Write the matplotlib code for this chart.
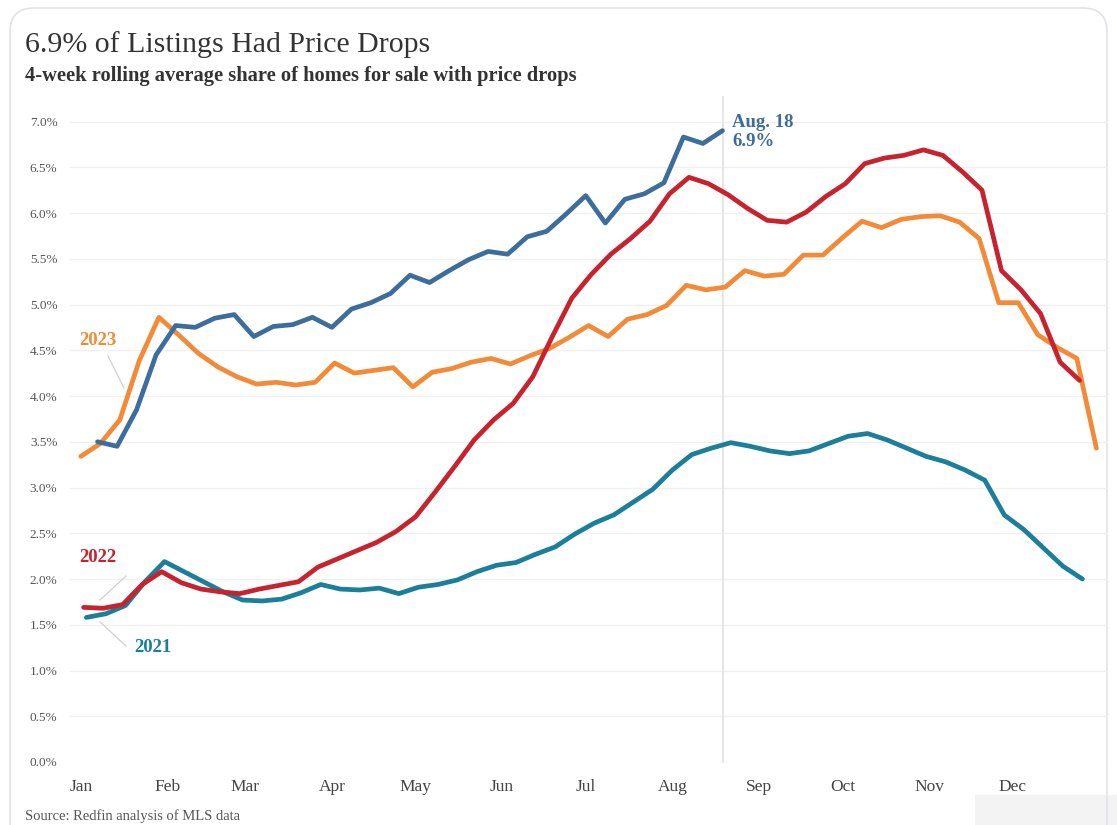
import matplotlib
matplotlib.use("Agg")
import matplotlib.pyplot as plt
import matplotlib.patches as mpatches
from matplotlib.transforms import IdentityTransform
import numpy as np
import pandas as pd

# ---------------- data (weekly, 4-week rolling average, %) ----------------
start_2021 = "2021-01-03"
vals_2021 = [1.58, 1.62, 1.71, 1.97, 2.19, 2.08, 1.97, 1.86, 1.77, 1.76,
             1.78, 1.85, 1.94, 1.89, 1.88, 1.90, 1.84, 1.91, 1.94, 1.99,
             2.08, 2.15, 2.18, 2.27, 2.35, 2.49, 2.61, 2.70, 2.84, 2.98,
             3.19, 3.36, 3.43, 3.49, 3.45, 3.40, 3.37, 3.40, 3.48, 3.56,
             3.59, 3.52, 3.43, 3.34, 3.28, 3.19, 3.08, 2.70, 2.54, 2.34,
             2.14, 2.00]

start_2022 = "2022-01-02"
vals_2022 = [1.69, 1.68, 1.72, 1.94, 2.08, 1.96, 1.89, 1.86, 1.84, 1.89,
             1.93, 1.97, 2.13, 2.22, 2.31, 2.40, 2.52, 2.68, 2.95, 3.23,
             3.52, 3.74, 3.92, 4.21, 4.65, 5.07, 5.33, 5.55, 5.72, 5.91,
             6.21, 6.39, 6.32, 6.20, 6.05, 5.92, 5.90, 6.01, 6.18, 6.32,
             6.54, 6.60, 6.63, 6.69, 6.63, 6.45, 6.25, 5.37, 5.16, 4.90,
             4.37, 4.17]

start_2023 = "2023-01-01"
vals_2023 = [3.34, 3.48, 3.74, 4.39, 4.86, 4.67, 4.47, 4.32, 4.21, 4.13,
             4.15, 4.12, 4.15, 4.36, 4.25, 4.28, 4.31, 4.10, 4.26, 4.30,
             4.37, 4.41, 4.35, 4.44, 4.52, 4.64, 4.77, 4.65, 4.84, 4.89,
             4.99, 5.21, 5.16, 5.19, 5.37, 5.31, 5.33, 5.54, 5.54, 5.73,
             5.91, 5.84, 5.93, 5.96, 5.97, 5.90, 5.72, 5.02, 5.02, 4.67,
             4.53, 4.41, 3.43]

start_2024 = "2024-01-07"
vals_2024 = [3.50, 3.45, 3.85, 4.45, 4.77, 4.75, 4.85, 4.89, 4.65, 4.76,
             4.78, 4.86, 4.75, 4.95, 5.02, 5.12, 5.32, 5.24, 5.37, 5.49,
             5.58, 5.55, 5.74, 5.80, 5.99, 6.19, 5.89, 6.15, 6.21, 6.33,
             6.83, 6.76, 6.90]

month_labels = ["Jan", "Feb", "Mar", "Apr", "May", "Jun",
                "Jul", "Aug", "Sep", "Oct", "Nov", "Dec"]
ytick_vals = [0.0, 0.5, 1.0, 1.5, 2.0, 2.5, 3.0, 3.5, 4.0, 4.5, 5.0, 5.5, 6.0, 6.5, 7.0]

marker_date = "2024-08-18"
marker_value = 6.9

# ---------------- helpers ----------------
def day_of_year(start, n):
    d = pd.date_range(start, periods=n, freq="7D")
    return np.asarray((d - pd.Timestamp(year=d[0].year, month=1, day=1)).days, dtype=float)

c2021 = "#1b7f99"
c2022 = "#c7222e"
c2023 = "#f38a37"
c2024 = "#3d6d9b"
serif = ["Liberation Serif", "DejaVu Serif"]

W, H = 1117, 825
fig = plt.figure(figsize=(W / 100, H / 100), dpi=100)
fig.patch.set_facecolor("white")

# card border
card = mpatches.FancyBboxPatch((10, -60), W - 20, H - 8 + 60,
                               boxstyle="round,pad=0,rounding_size=24",
                               transform=IdentityTransform(),
                               facecolor="none", edgecolor="#dfe3e8", lw=1.2, zorder=-5)
fig.patches.append(card)
fig.patches.append(mpatches.Rectangle((975, 0), W - 975, 30, transform=IdentityTransform(),
                                      facecolor="#f3f3f3", edgecolor="none", zorder=-6))

# axes geometry (pixels)
px_left, px_right, px_bottom, px_top = 70, 1108, 762, 112
x0_px, px_per_day = 80.8, 2.79
px_per_unit = 91.5

ax = fig.add_axes([px_left / W, (H - px_bottom) / H,
                   (px_right - px_left) / W, (px_bottom - px_top) / H])
ax.set_facecolor("none")
ax.set_xlim((px_left - x0_px) / px_per_day, (px_right - x0_px) / px_per_day)
ax.set_ylim(0, (px_bottom - px_top) / px_per_unit)

for s in ax.spines.values():
    s.set_visible(False)

ax.set_yticks(ytick_vals)
ax.set_yticklabels([f"{v:.1f}%" for v in ytick_vals], fontfamily=serif,
                   fontsize=9.5, color="#555555")
month_pos = day_of_year("2023-01-01", 1)[0] + np.cumsum([0, 31, 28, 31, 30, 31, 30, 31, 31, 30, 31, 30])
ax.set_xticks(month_pos)
ax.set_xticklabels(month_labels, fontfamily=serif, fontsize=12.5, color="#444444")
ax.tick_params(axis="both", length=0)
ax.tick_params(axis="y", pad=9)
ax.tick_params(axis="x", pad=12)
ax.grid(axis="y", color="#f0f0f0", lw=1)
ax.set_axisbelow(True)

# vertical marker line
md = pd.Timestamp(marker_date)
mx = (md - pd.Timestamp(year=md.year, month=1, day=1)).days
ax.plot([mx, mx], [0, (px_bottom - 97) / px_per_unit], color="#e2e2e2", lw=1.2,
        clip_on=False, zorder=1)

lw = 3.4
ax.plot(day_of_year(start_2021, len(vals_2021)), vals_2021, color=c2021, lw=lw,
        solid_joinstyle="round", solid_capstyle="round", zorder=3)
ax.plot(day_of_year(start_2023, len(vals_2023)), vals_2023, color=c2023, lw=lw,
        solid_joinstyle="round", solid_capstyle="round", zorder=4)
ax.plot(day_of_year(start_2022, len(vals_2022)), vals_2022, color=c2022, lw=lw,
        solid_joinstyle="round", solid_capstyle="round", zorder=5)
ax.plot(day_of_year(start_2024, len(vals_2024)), vals_2024, color=c2024, lw=lw,
        solid_joinstyle="round", solid_capstyle="round", zorder=6)

# labels & leader lines
def d(px, py):
    return ((px - x0_px) / px_per_day, (px_bottom - py) / px_per_unit)

lead = dict(color="#cfcfcf", lw=0.9, zorder=2, clip_on=False)
for (a, b) in [((108, 356), (124, 388)), ((126, 576), (100, 600)), ((100, 622), (126, 646))]:
    p, q = d(*a), d(*b)
    ax.plot([p[0], q[0]], [p[1], q[1]], **lead)

ax.text(*d(98, 340), "2023", color=c2023, fontfamily=serif, fontsize=13.5,
        fontweight="bold", ha="center", va="center")
ax.text(*d(98, 557), "2022", color=c2022, fontfamily=serif, fontsize=13.5,
        fontweight="bold", ha="center", va="center")
ax.text(*d(153, 648), "2021", color=c2021, fontfamily=serif, fontsize=13.5,
        fontweight="bold", ha="center", va="center")
ax.text(*d(732, 132), "Aug. 18\n6.9%", color=c2024, fontfamily=serif, fontsize=13.5,
        fontweight="bold", ha="left", va="center", linespacing=1.1)

# titles
fig.text(25 / W, (H - 45) / H, "6.9% of Listings Had Price Drops", fontfamily=serif,
         fontsize=21.5, color="#333333", ha="left", va="center")
fig.text(25 / W, (H - 76) / H, "4-week rolling average share of homes for sale with price drops",
         fontfamily=serif, fontsize=14.8, fontweight="bold", color="#333333", ha="left", va="center")
fig.text(25 / W, (H - 816) / H, "Source: Redfin analysis of MLS data", fontfamily=serif,
         fontsize=10.5, color="#555555", ha="left", va="center")

fig.savefig("out.png", dpi=100, facecolor="white")
